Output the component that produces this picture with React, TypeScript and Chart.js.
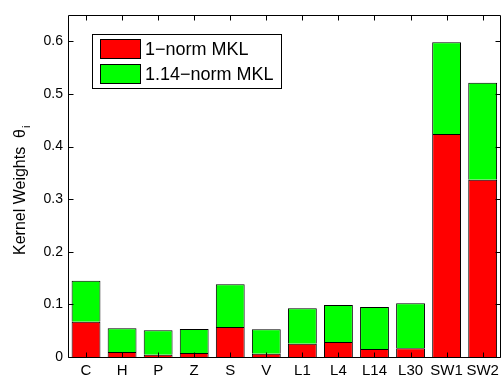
import React, { useEffect, useRef } from "react";
import { Chart, registerables } from "chart.js";

Chart.register(...registerables);

const categories = ["C", "H", "P", "Z", "S", "V", "L1", "L4", "L14", "L30", "SW1", "SW2"];
const norm1Weights = [0.067, 0.0095, 0.0044, 0.0076, 0.057, 0.0063, 0.025, 0.0286, 0.0152, 0.0165, 0.424, 0.337];
const norm114Weights = [0.078, 0.045, 0.0464, 0.0457, 0.0814, 0.0464, 0.0677, 0.0704, 0.08, 0.0857, 0.174, 0.184];
const seriesLabels = ["1\u2212norm MKL", "1.14\u2212norm MKL"];
const seriesColors = ["#ff0000", "#00ff00"];
const yTickValues = [0, 0.1, 0.2, 0.3, 0.4, 0.5, 0.6];
const yTitleMain = "Kernel Weights  \u03b8";
const yTitleSub = "i";

const FONT = "'Liberation Sans', Arial, Helvetica, sans-serif";

const framePlugin = {
  id: "matlabFrame",
  afterDatasetsDraw(chart: any) {
    const { ctx, chartArea } = chart;
    const { left, right, top, bottom } = chartArea;
    const xs = chart.scales.x;
    const ys = chart.scales.y;
    ctx.save();
    ctx.strokeStyle = "#000";
    ctx.lineWidth = 1;
    ctx.beginPath();
    const L = Math.round(left) + 0.5;
    const R = Math.round(right) - 0.5;
    const T = Math.round(top) + 0.5;
    const B = Math.round(bottom) + 0.5;
    ctx.rect(L, T, R - L, B - T);
    const tl = 5;
    yTickValues.forEach((v) => {
      const y = Math.round(ys.getPixelForValue(v)) + 0.5;
      ctx.moveTo(L, y);
      ctx.lineTo(L + tl, y);
      ctx.moveTo(R, y);
      ctx.lineTo(R - tl, y);
    });
    categories.forEach((_, i) => {
      const x = Math.round(xs.getPixelForValue(i)) + 0.5;
      ctx.moveTo(x, T);
      ctx.lineTo(x, T + tl);
      ctx.moveTo(x, B);
      ctx.lineTo(x, B - tl);
    });
    ctx.stroke();

    // legend
    const bx = 92.5, by = 34.5, bw = 189, bh = 54;
    ctx.fillStyle = "#fff";
    ctx.fillRect(bx, by, bw, bh);
    ctx.strokeRect(bx, by, bw, bh);
    const rowsY = [49, 74];
    ctx.font = `18px ${FONT}`;
    ctx.textBaseline = "middle";
    ctx.textAlign = "left";
    seriesLabels.forEach((lab, i) => {
      const cy = rowsY[i];
      ctx.fillStyle = seriesColors[i];
      ctx.fillRect(100.5, cy - 9.5, 40, 19);
      ctx.strokeRect(100.5, cy - 9.5, 40, 19);
      ctx.fillStyle = "#000";
      ctx.fillText(lab, 145, cy + 1);
    });

    // y title
    ctx.save();
    ctx.translate(25, 255);
    ctx.rotate(-Math.PI / 2);
    ctx.font = `16px ${FONT}`;
    ctx.textBaseline = "alphabetic";
    ctx.fillStyle = "#000";
    ctx.fillText(yTitleMain, 0, 0);
    const w = ctx.measureText(yTitleMain).width;
    ctx.font = `11px ${FONT}`;
    ctx.fillText(yTitleSub, w + 1, 5);
    ctx.restore();

    ctx.restore();
  },
};

export default function App() {
  const ref = useRef<HTMLCanvasElement | null>(null);
  useEffect(() => {
    if (!ref.current) return;
    const chart = new Chart(ref.current, {
      type: "bar",
      data: {
        labels: categories,
        datasets: [
          {
            label: seriesLabels[0],
            data: norm1Weights,
            backgroundColor: seriesColors[0],
            borderColor: "#000",
            borderWidth: 1,
            barPercentage: 0.8,
            categoryPercentage: 1,
          },
          {
            label: seriesLabels[1],
            data: norm114Weights,
            backgroundColor: seriesColors[1],
            borderColor: "#000",
            borderWidth: 1,
            barPercentage: 0.8,
            categoryPercentage: 1,
          },
        ],
      },
      options: {
        animation: false,
        responsive: false,
        maintainAspectRatio: false,
        devicePixelRatio: 1,
        layout: { padding: { top: 15, right: 2, left: 0, bottom: 0 } },
        plugins: {
          legend: { display: false },
          tooltip: { enabled: false },
          title: { display: false },
        },
        scales: {
          x: {
            stacked: true,
            grid: { display: false, drawTicks: false },
            border: { display: false },
            ticks: {
              color: "#000",
              font: { family: FONT, size: 15 },
              padding: 5,
              maxRotation: 0,
              autoSkip: false,
            },
            afterFit: (s: any) => {
              s.height = 22;
            },
          },
          y: {
            stacked: true,
            min: 0,
            max: 0.65,
            grid: { display: false, drawTicks: false },
            border: { display: false },
            afterBuildTicks: (s: any) => {
              s.ticks = yTickValues.map((v) => ({ value: v }));
            },
            ticks: {
              color: "#000",
              font: { family: FONT, size: 14 },
              padding: 5,
              callback: (v: any) => String(v),
            },
            afterFit: (s: any) => {
              s.width = 68;
            },
          },
        },
      },
      plugins: [framePlugin],
    });
    return () => chart.destroy();
  }, []);
  return (
    <div style={{ position: "fixed", left: 0, top: 0, width: 504, height: 379, background: "#fff" }}>
      <canvas ref={ref} width={504} height={379} style={{ width: 504, height: 379, display: "block" }} />
    </div>
  );
}
